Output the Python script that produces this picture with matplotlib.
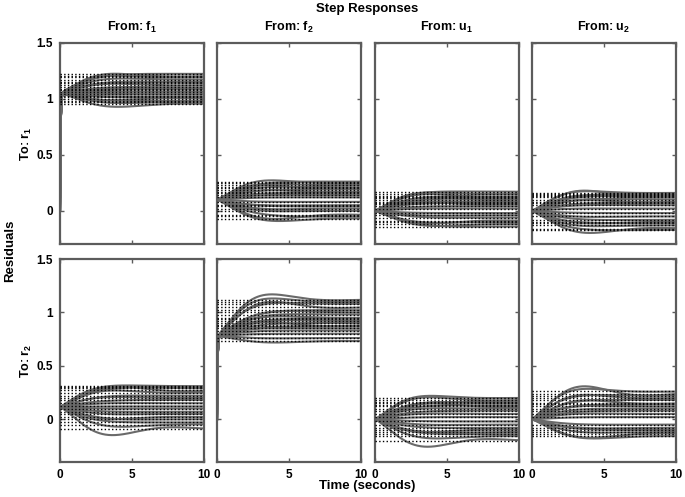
import numpy as np
import matplotlib
matplotlib.use("Agg")
import matplotlib.pyplot as plt

plt.rcParams['font.family'] = ['Liberation Sans', 'DejaVu Sans']
plt.rcParams['font.weight'] = 'bold'
plt.rcParams['mathtext.fontset'] = 'custom'
plt.rcParams['mathtext.rm'] = 'Liberation Sans:bold'
plt.rcParams['mathtext.bf'] = 'Liberation Sans:bold'
plt.rcParams['mathtext.it'] = 'Liberation Sans:bold'

# inputs / outputs of the residual generator
inputs = ['f', 'f', 'u', 'u']
input_idx = ['1', '2', '1', '2']
outputs = ['1', '2']

# damping / natural frequency of each sampled (uncertain) model
zeta = [0.40, 0.45, 0.50, 0.55, 0.58, 0.62, 0.65, 0.68, 0.70, 0.72,
        0.75, 0.78, 0.80, 0.82, 0.85, 0.88, 0.90, 0.93]
wn = [0.80, 0.74, 0.80, 0.84, 0.76, 0.88, 0.80, 0.74, 0.84, 0.80,
      0.88, 0.76, 0.80, 0.84, 0.74, 0.80, 0.88, 0.95]

# starting level of each channel (after the fast jump on the diagonal)
start_r1 = [1.05, 0.10, 0.00, 0.00]
start_r2 = [0.115, 0.78, 0.00, 0.00]
diagonal_r1 = [True, False, False, False]
diagonal_r2 = [False, True, False, False]

# final values of each sampled model, per channel
final_r1_f1 = [1.00, 0.95, 1.12, 1.20, 0.97, 1.19, 1.17, 1.10, 1.06, 1.14, 1.02, 1.08, 1.15, 0.98, 1.04, 1.22, 1.01, 1.09]
final_r1_f2 = [0.20, -0.04, 0.17, 0.25, -0.07, 0.23, 0.02, 0.14, 0.05, 0.21, 0.00, 0.12, 0.08, 0.19, -0.05, 0.26, 0.04, 0.16]
final_r1_u1 = [0.06, -0.09, 0.10, 0.13, -0.12, 0.15, -0.04, 0.08, -0.10, 0.12, 0.02, -0.06, 0.04, 0.17, -0.14, 0.11, -0.02, 0.07]
final_r1_u2 = [0.14, -0.16, 0.08, 0.12, -0.10, 0.16, -0.05, 0.10, -0.13, 0.05, 0.02, -0.08, 0.13, -0.17, 0.15, -0.02, 0.07, -0.11]
final_r2_f1 = [-0.09, 0.27, 0.02, 0.25, -0.05, 0.20, 0.10, 0.29, 0.05, 0.15, 0.31, 0.00, 0.22, 0.07, 0.18, 0.30, 0.12, -0.03]
final_r2_f2 = [0.88, 0.73, 1.05, 1.12, 0.76, 1.10, 0.95, 1.00, 0.85, 0.92, 1.08, 0.80, 0.98, 0.83, 0.90, 1.02, 0.87, 0.94]
final_r2_u1 = [-0.20, 0.12, -0.10, 0.18, -0.16, 0.20, 0.05, -0.05, 0.15, -0.12, 0.10, 0.02, -0.08, 0.16, -0.02, 0.08, -0.14, 0.13]
final_r2_u2 = [0.24, -0.14, 0.15, 0.20, -0.16, 0.26, 0.05, -0.08, 0.12, -0.12, 0.22, 0.02, -0.05, 0.18, 0.08, -0.10, 0.10, 0.14]

finals = [[final_r1_f1, final_r1_f2, final_r1_u1, final_r1_u2],
          [final_r2_f1, final_r2_f2, final_r2_u1, final_r2_u2]]
starts = [start_r1, start_r2]
diags = [diagonal_r1, diagonal_r2]
ylims = [(-0.3, 1.5), (-0.4, 1.5)]

t = np.linspace(0, 10, 600)
zero_gain = 0.45  # zero in the models -> non zero initial slope


def step2(t, z, w):
    wd = w * np.sqrt(1 - z * z)
    e = np.exp(-z * w * t)
    s = 1 - e * (np.cos(wd * t) + z / np.sqrt(1 - z * z) * np.sin(wd * t))
    h = e * np.sin(wd * t) / np.sqrt(1 - z * z)
    return s + zero_gain * h


fig = plt.figure(figsize=(6.85, 4.97), dpi=100)
W, H = 685.0, 497.0
col_left = [60, 217, 375, 532]
row_top = [42.5, 259]
row_bot = [244.5, 462]
frame = '#5c5c5c'

for r in range(2):
    for c in range(4):
        ax = fig.add_axes([col_left[c] / W, 1 - row_bot[r] / H,
                           144 / W, (row_bot[r] - row_top[r]) / H])
        y0 = starts[r][c]
        for i, yf in enumerate(finals[r][c]):
            s = step2(t, zeta[i], wn[i])
            if diags[r][c]:
                y = y0 * (1 - np.exp(-t / 0.04)) + (yf - y0) * s
            else:
                y = y0 + (yf - y0) * s
            ax.plot(t, y, color='#6a6a6a', lw=1.5, zorder=2)
            ax.plot([0, 10], [yf, yf], ':', color='k', lw=1.0, zorder=3)

        ax.set_xlim(0, 10)
        ax.set_ylim(*ylims[r])
        ax.set_xticks([0, 5, 10])
        ax.set_yticks([0, 0.5, 1, 1.5])
        ax.set_yticklabels(['0', '0.5', '1', '1.5'])
        ax.tick_params(direction='in', length=3, width=1, color=frame,
                       top=True, right=True, labelsize=8.5, pad=5)
        for sp in ax.spines.values():
            sp.set_color(frame)
            sp.set_linewidth(1.6)
        if c > 0:
            ax.set_yticklabels([])
        if r == 0:
            ax.set_xticklabels([])
            fig.text((col_left[c] + 72) / W, 1 - 27 / H,
                     r'From: $\mathbf{%s}_\mathbf{%s}$' % (inputs[c], input_idx[c]),
                     ha='center', va='center', fontsize=9, fontweight='bold')
        if c == 0:
            fig.text(26 / W, 1 - ((row_top[r] + row_bot[r]) / 2) / H,
                     r'To: $\mathbf{r}_\mathbf{%s}$' % outputs[r],
                     ha='center', va='center', rotation=90, fontsize=9,
                     fontweight='bold')

fig.text(367 / W, 1 - 9 / H, 'Step Responses', ha='center', va='center',
         fontsize=9.5, fontweight='bold')
fig.text(367 / W, 1 - 486 / H, 'Time (seconds)', ha='center', va='center',
         fontsize=9.5, fontweight='bold')
fig.text(10 / W, 1 - 251 / H, 'Residuals', ha='center', va='center',
         rotation=90, fontsize=9.5, fontweight='bold')

fig.savefig('out.png', dpi=100)
